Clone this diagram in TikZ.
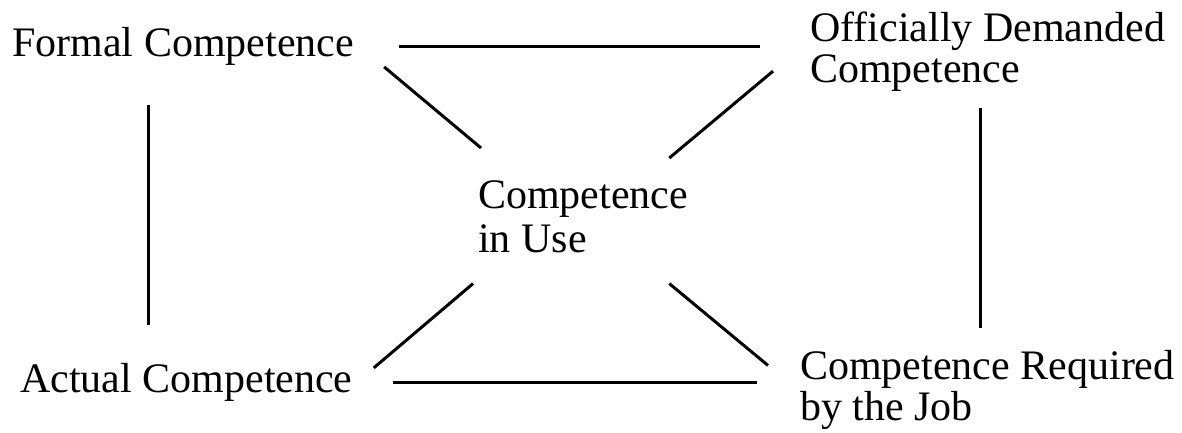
\documentclass[tikz,border=0pt]{standalone}
\usepackage{fontspec}
\setmainfont{Liberation Serif}
\tikzset{
  comp/.style ={inner sep=0pt,anchor=base west,align=left,
                font=\fontsize{42}{42}\selectfont},
  link/.style ={line width=3pt,draw=black}
}
\begin{document}
\begin{tikzpicture}[x=1pt,y=1pt]
  \useasboundingbox (0,0) rectangle (1182,433);
  % the five kinds of competence (base = last line)
  \node[comp] (formal)   at (12,376)  {Formal Competence};
  \node[comp] (official) at (810,350) {Officially Demanded\\[-1pt]Competence};
  \node[comp] (actual)   at (20,40)   {Actual Competence};
  \node[comp] (required) at (800,12)  {Competence Required\\[-1pt]by the Job};
  \node[comp] (inuse)    at (478,180) {Competence\\[2pt]in Use};
  % square
  \draw[link,shorten <=45pt,shorten >=50pt] (formal.east) -- (formal.east -| official.west);
  \draw[link,shorten <=40pt,shorten >=43pt] (actual.east) -- (actual.east -| required.west);
  \draw[link,shorten <=39pt,shorten >=39pt] ([xshift=136pt]formal.south west)
        -- ([xshift=136pt]formal.south west |- actual.north);
  \draw[link,shorten <=16pt,shorten >=23pt] ([xshift=170pt]official.south west)
        -- ([xshift=170pt]official.south west |- required.north);
  % cross
  \draw[link] ([shift={(30,-20)}]formal.east) -- ([shift={(3,33)}]inuse.north west);
  \draw[link] ([shift={(-37,-19)}]official.west) -- ([shift={(-19,23)}]inuse.north east);
  \draw[link] ([shift={(21,15)}]actual.east) -- ([shift={(-5,-30)}]inuse.south west);
  \draw[link] ([shift={(-32,25)}]required.west) -- ([shift={(-19,-30)}]inuse.south east);
\end{tikzpicture}
\end{document}
